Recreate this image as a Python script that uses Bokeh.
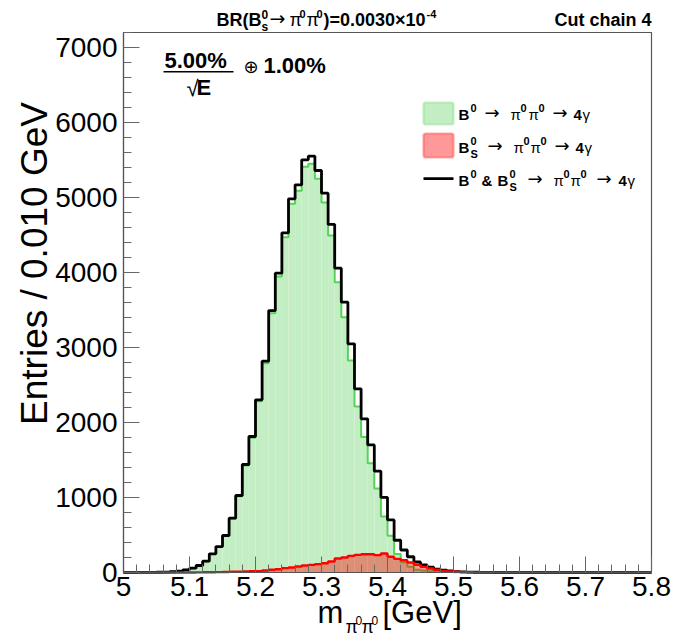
import numpy as np
from bokeh.plotting import figure
from bokeh.models import Label, BoxAnnotation, FixedTicker, CustomJSTickFormatter, Range1d
from bokeh.embed import file_html
from bokeh.resources import INLINE

# ---------------- data ----------------
x_lo = 5.0
x_hi = 5.8
bin_width = 0.01
n_bins = 80
y_max = 7196

green_counts = [0, 0, 1, 1, 2, 3, 5, 10, 18, 35,
                56, 91, 148, 245, 341, 486, 715, 1015, 1425, 1796,
                2283, 2789, 3455, 3945, 4469, 4913, 5086, 5406, 5446, 5246,
                4931, 4491, 3869, 3402, 2825, 2213, 1804, 1456, 1119, 747,
                491, 248, 136, 77, 38, 25, 17, 9, 8, 7,
                3, 3, 2, 1, 1, 1, 0, 0, 0, 0,
                0, 0, 0, 0, 0, 0, 0, 0, 0, 0,
                0, 0, 0, 0, 0, 0, 0, 0, 0, 0]

red_counts = [0, 0, 0, 0, 0, 0, 0, 0, 0, 1,
              1, 2, 3, 4, 5, 7, 9, 11, 14, 16,
              18, 27, 36, 44, 58, 67, 80, 93, 102, 111,
              124, 147, 186, 200, 222, 235, 244, 244, 231, 253,
              209, 182, 164, 133, 102, 75, 53, 36, 22, 13,
              9, 5, 3, 2, 1, 0, 0, 0, 0, 0,
              0, 0, 0, 0, 0, 0, 0, 0, 0, 0,
              0, 0, 0, 0, 0, 0, 0, 0, 0, 0]

x_tick_values = [5.0, 5.1, 5.2, 5.3, 5.4, 5.5, 5.6, 5.7, 5.8]
x_tick_labels = ["5", "5.1", "5.2", "5.3", "5.4", "5.5", "5.6", "5.7", "5.8"]
y_tick_values = [0, 1000, 2000, 3000, 4000, 5000, 6000, 7000]

# ---------------- layout (page pixels) ----------------
W, H = 673, 640
FL, FR, FT, FB = 123, 651, 32, 572      # plotting box edges
sx = (FR - FL) / (x_hi - x_lo)
sy = (FB - FT) / y_max
x_start, x_end = x_lo - FL / sx, x_hi + (W - FR) / sx
y_start, y_end = -(H - FB) / sy, y_max + FT / sy

# ---------------- derived ----------------
edges = x_lo + bin_width * np.arange(n_bins + 1)
green = np.array(green_counts, dtype=float)
red = np.array(red_counts, dtype=float)
total = green + red

FONT = "Liberation Sans"
SYM = "DejaVu Sans"
K = 0.38   # baseline correction (fraction of font size)

p = figure(width=W, height=H, x_range=Range1d(x_start, x_end), y_range=Range1d(y_start, y_end),
           output_backend="svg", toolbar_location=None,
           min_border=0, min_border_left=0, min_border_right=0,
           min_border_top=0, min_border_bottom=0)
p.grid.visible = False
p.outline_line_color = None
p.background_fill_color = "white"
p.border_fill_color = "white"

# fills and outlines
p.quad(left=edges[:-1], right=edges[1:], bottom=0, top=green,
       fill_color="#c3eec3", line_color=None)
p.step(x=edges, y=np.append(green, green[-1]), mode="after",
       line_color="#55d455", line_width=2)
p.quad(left=edges[:-1], right=edges[1:], bottom=0, top=red,
       fill_color="#ff0000", fill_alpha=0.4, line_color=None)
p.step(x=edges, y=np.append(total, total[-1]), mode="after",
       line_color="black", line_width=2.8)
p.step(x=edges, y=np.append(red, red[-1]), mode="after",
       line_color="#ff0000", line_width=2.4)

# frame box (top/right edges)
p.quad(left=[x_lo], right=[x_hi], bottom=[0], top=[y_max],
       fill_color=None, line_color="#555555", line_width=1.2)

# axes drawn at the plotting box edges
minor_x = list(np.round(np.arange(5.0, 5.8001, 0.02), 3))
p.xaxis.ticker = FixedTicker(ticks=x_tick_values, minor_ticks=minor_x)
p.xaxis.formatter = CustomJSTickFormatter(
    args=dict(tv=x_tick_values, tl=x_tick_labels),
    code="const i = tv.findIndex(t => Math.abs(t - tick) < 1e-6); return i >= 0 ? tl[i] : '';")
minor_y = list(range(0, 7201, 200))
p.yaxis.ticker = FixedTicker(ticks=y_tick_values, minor_ticks=minor_y)
p.xaxis.fixed_location = 0
p.yaxis.fixed_location = x_lo
p.xaxis.bounds = (x_lo, x_hi)
p.yaxis.bounds = (0, y_max)

for ax in (p.xaxis[0], p.yaxis[0]):
    ax.major_tick_in = 16
    ax.major_tick_out = 0
    ax.minor_tick_in = 8
    ax.minor_tick_out = 0
    ax.axis_line_color = "#555555"
    ax.axis_line_width = 1.2
    ax.major_tick_line_color = "#666666"
    ax.minor_tick_line_color = "#666666"
    ax.major_label_text_font = FONT
    ax.major_label_text_font_size = "28px"
    ax.major_label_text_color = "black"
p.xaxis.major_label_standoff = 4
p.yaxis.major_label_standoff = 6


def lab(text, X, Y, size, bold=False, font=FONT, align="left", rotated=False):
    if rotated:
        x, y, ang = X - K * size, H - Y, np.pi / 2
    else:
        x, y, ang = X, H - (Y - K * size), 0.0
    p.add_layout(Label(x=x, y=y, x_units="screen", y_units="screen",
                       text=text, text_font=font, text_font_size=f"{size}px",
                       text_font_style="bold" if bold else "normal",
                       text_align=align, text_baseline="alphabetic",
                       angle=ang, text_color="black"))


def box(X0, X1, Y0, Y1, fill, fill_alpha=1.0, line=None, lw=0, radius=0):
    p.add_layout(BoxAnnotation(left=X0, right=X1, top=H - Y0, bottom=H - Y1,
                               left_units="screen", right_units="screen",
                               top_units="screen", bottom_units="screen",
                               fill_color=fill, fill_alpha=fill_alpha,
                               line_color=line, line_width=lw, border_radius=radius,
                               level="overlay"))


# title
lab("BR(B", 216, 26, 18, True)
lab("0", 261, 19, 12, True)
lab("s", 261, 31, 12, True)
lab("\u2192", 269, 25, 19, font=SYM)
lab("\u03c0", 289, 26, 18)
lab("0", 299, 18, 11, True)
lab("\u03c0", 306, 26, 18)
lab("0", 316, 18, 11, True)
lab(")=0.0030\u00d710", 323, 26, 18, True)
lab("-4", 426, 18, 11, True)
lab("Cut chain 4", 651, 26, 18, True, align="right")

# resolution formula
lab("5.00%", 164, 68, 22, True)
box(163, 233, 70.5, 72, "black")
lab("\u221a", 186, 96, 22)
lab("E", 196, 95, 22, True)
lab("\u2295", 243, 73, 18, font=SYM)
lab("1.00%", 263, 73, 22, True)

# legend
box(423, 453, 102, 124, "#c3eec3", line="#55d455", lw=2.2, radius=2)
lab("B", 458, 120, 15, True)
lab("0", 470, 112, 11, True)
lab("\u2192", 484, 119, 18, font=SYM)
lab("\u03c0", 510, 120, 15)
lab("0", 520, 112, 11, True)
lab("\u03c0", 528, 120, 15)
lab("0", 538, 112, 11, True)
lab("\u2192", 552, 119, 18, font=SYM)
lab("4", 573, 120, 15, True)
lab("\u03b3", 582, 120, 15)

box(423, 453, 133, 157, "#ff0000", fill_alpha=0.4, line="#ff0000", lw=2.2, radius=2)
lab("B", 458, 153, 15, True)
lab("0", 470, 145, 11, True)
lab("S", 470, 158, 11, True)
lab("\u2192", 487, 152, 18, font=SYM)
lab("\u03c0", 513, 153, 15)
lab("0", 523, 145, 11, True)
lab("\u03c0", 530, 153, 15)
lab("0", 540, 145, 11, True)
lab("\u2192", 554, 152, 18, font=SYM)
lab("4", 575, 153, 15, True)
lab("\u03b3", 584, 153, 15)

box(423, 453, 176.8, 179.6, "black")
lab("B", 458, 186, 15, True)
lab("0", 470, 178, 11, True)
lab("&", 481, 186, 15, True)
lab("B", 497, 186, 15, True)
lab("0", 509, 178, 11, True)
lab("S", 509, 191, 11, True)
lab("\u2192", 527, 185, 18, font=SYM)
lab("\u03c0", 553, 186, 15)
lab("0", 563, 178, 11, True)
lab("\u03c0", 570, 186, 15)
lab("0", 580, 178, 11, True)
lab("\u2192", 596, 185, 18, font=SYM)
lab("4", 618, 186, 15, True)
lab("\u03b3", 627, 186, 15)

# axis titles
lab("Entries / 0.010 GeV", 48, 263, 37, align="center", rotated=True)
lab("m", 317, 624, 31)
lab("\u03c0", 345, 633, 18)
lab("0", 355, 625, 12)
lab("\u03c0", 361, 633, 18)
lab("0", 371, 625, 12)
lab("[GeV]", 382, 624, 31)

open("out.html", "w").write(file_html(p, INLINE))
